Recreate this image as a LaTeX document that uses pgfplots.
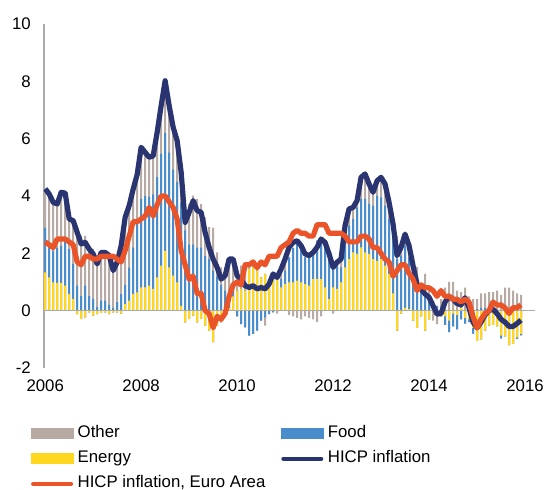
\documentclass[border=0pt]{standalone}
\usepackage{pgfplots}
\pgfplotsset{compat=1.18}
\usepackage{pgfplotstable}
\usepackage{fontspec}
\setmainfont{Liberation Sans}
\definecolor{cOther}{RGB}{183,170,163}
\definecolor{cFood}{RGB}{74,141,205}
\definecolor{cEnergy}{RGB}{255,215,30}
\definecolor{cNavy}{RGB}{42,52,112}
\definecolor{cOrange}{RGB}{234,84,40}
\definecolor{cAxis}{RGB}{170,170,170}
\pgfplotstableread{
i E F O H EA
0 1.34 1.56 1.35 4.25 2.4
1 1.16 1.17 1.74 4.07 2.3
2 0.99 1.10 1.69 3.78 2.2
3 0.97 1.23 1.52 3.72 2.5
4 0.97 1.30 1.86 4.13 2.5
5 0.87 1.57 1.66 4.10 2.5
6 0.58 1.57 1.05 3.20 2.4
7 0.41 1.22 1.51 3.14 2.3
8 -0.12 0.87 1.98 2.73 1.7
9 -0.29 0.52 2.10 2.33 1.6
10 -0.23 0.87 1.74 2.38 1.9
11 -0.06 0.52 1.69 2.15 1.9
12 -0.17 0.41 1.74 1.98 1.8
13 -0.12 0.12 1.63 1.63 1.8
14 -0.08 0.35 1.76 2.03 1.9
15 -0.06 0.35 1.74 2.03 1.9
16 -0.12 0.20 1.84 1.92 1.9
17 -0.06 0.10 1.36 1.40 1.9
18 -0.06 0.30 1.45 1.69 1.8
19 -0.10 0.58 1.79 2.27 1.7
20 0.23 0.67 2.36 3.26 2.1
21 0.35 1.15 2.16 3.66 2.6
22 0.58 1.62 2.04 4.24 3.1
23 0.64 2.56 1.55 4.75 3.1
24 0.81 3.09 1.80 5.70 3.2
25 0.81 3.19 1.52 5.52 3.3
26 0.87 3.10 1.38 5.35 3.6
27 0.76 3.30 1.34 5.40 3.3
28 1.16 3.50 1.56 6.22 3.7
29 1.57 3.90 1.68 7.15 4.0
30 2.09 4.10 1.83 8.02 4.0
31 1.51 4.00 1.64 7.15 3.8
32 1.22 3.70 1.48 6.40 3.6
33 0.99 3.50 1.44 5.93 3.2
34 0.17 3.60 1.06 4.83 2.1
35 -0.41 2.80 0.69 3.08 1.6
36 -0.29 2.30 1.42 3.43 1.1
37 -0.17 2.30 1.71 3.84 1.2
38 -0.41 2.20 1.70 3.49 0.6
39 -0.29 2.20 1.52 3.43 0.6
40 -0.52 1.90 1.35 2.73 0.0
41 -0.70 1.80 1.11 2.21 -0.1
42 -1.10 1.40 1.50 1.80 -0.6
43 -0.52 1.20 0.83 1.51 -0.2
44 -0.41 0.90 0.61 1.10 -0.3
45 -0.06 0.70 0.58 1.22 -0.1
46 0.10 0.50 1.20 1.80 0.5
47 0.50 0.30 1.00 1.80 0.9
48 0.70 -0.20 0.72 1.22 1.0
49 0.76 -0.47 0.81 1.10 0.9
50 0.70 -0.58 0.75 0.87 1.6
51 1.45 -0.87 0.23 0.81 1.6
52 1.51 -0.81 0.17 0.87 1.7
53 1.40 -0.70 0.06 0.76 1.5
54 1.16 -0.35 0.00 0.81 1.7
55 1.28 -0.23 -0.29 0.76 1.6
56 1.05 -0.12 0.00 0.93 1.9
57 1.10 -0.06 0.24 1.28 1.9
58 1.10 0.10 -0.10 1.16 1.9
59 0.81 0.30 0.34 1.45 2.2
60 0.93 0.47 0.40 1.80 2.3
61 0.99 0.87 -0.15 2.21 2.4
62 0.99 1.20 -0.20 2.38 2.7
63 1.05 1.40 -0.25 2.44 2.8
64 0.99 1.30 -0.30 2.27 2.7
65 0.93 0.93 -0.20 1.98 2.7
66 0.87 1.00 -0.25 1.92 2.6
67 1.10 0.93 -0.30 2.03 2.6
68 1.10 1.34 -0.40 2.21 3.0
69 1.10 1.40 -0.20 2.50 3.0
70 0.81 1.46 0.11 2.38 3.0
71 0.41 1.33 0.24 1.98 2.7
72 0.81 0.70 -0.10 1.51 2.7
73 0.76 0.80 0.13 1.69 2.7
74 0.99 0.52 0.29 1.80 2.7
75 1.51 1.00 0.46 2.97 2.6
76 1.80 1.17 0.58 3.55 2.4
77 2.03 1.17 0.40 3.60 2.4
78 1.98 1.62 0.24 3.84 2.4
79 2.21 1.69 0.75 4.65 2.6
80 2.03 1.87 0.87 4.77 2.6
81 1.98 1.74 0.70 4.42 2.5
82 1.80 1.86 0.47 4.13 2.2
83 1.74 2.26 0.53 4.53 2.2
84 1.80 2.15 0.70 4.65 2.0
85 1.57 2.09 0.76 4.42 1.8
86 1.28 1.92 0.58 3.78 1.7
87 0.60 1.90 0.52 3.02 1.2
88 -0.70 1.80 0.82 1.92 1.4
89 -0.10 1.92 0.39 2.21 1.6
90 0.10 2.17 0.40 2.67 1.6
91 0.05 1.81 0.41 2.27 1.3
92 -0.35 1.45 0.47 1.57 1.1
93 -0.60 0.87 0.66 0.93 0.7
94 -0.20 0.70 0.26 0.76 0.9
95 -0.70 0.58 0.70 0.58 0.8
96 -0.30 0.40 0.37 0.47 0.8
97 0.05 0.29 -0.35 0.17 0.7
98 -0.17 0.17 -0.30 -0.12 0.5
99 -0.10 -0.10 0.40 -0.10 0.7
100 -0.20 -0.30 0.80 0.30 0.5
101 -0.35 -0.40 1.00 0.50 0.5
102 -0.10 -0.45 1.00 0.40 0.4
103 -0.15 -0.50 0.70 0.25 0.4
104 0.10 -0.30 0.55 0.20 0.3
105 -0.25 -0.20 0.80 0.45 0.4
106 -0.30 -0.10 0.50 0.10 0.3
107 -0.60 -0.20 0.40 -0.40 -0.2
108 -1.05 0.05 0.35 -0.60 -0.6
109 -1.00 0.10 0.50 -0.40 -0.3
110 -0.70 0.10 0.50 -0.15 -0.1
111 -0.52 0.05 0.60 0.00 0.0
112 -0.50 0.10 0.55 0.05 0.3
113 -0.55 0.00 0.70 -0.10 0.2
114 -0.87 -0.10 0.55 -0.30 0.2
115 -0.90 0.00 0.80 -0.40 0.1
116 -1.20 0.05 0.75 -0.55 -0.1
117 -1.16 0.00 0.70 -0.55 0.1
118 -0.93 -0.05 0.60 -0.45 0.1
119 -0.81 -0.05 0.55 -0.33 0.2
}\data

\begin{document}
\begin{tikzpicture}
\useasboundingbox (-44pt,-122pt) rectangle (503pt,368pt);
\begin{axis}[
  at={(0pt,0pt)}, anchor=south west,
  scale only axis, width=491pt, height=344pt,
  xmin=-0.3, xmax=122.5, ymin=-2, ymax=10,
  axis x line*=bottom, axis y line*=left,
  x axis line style={draw=none},
  y axis line style={draw=cAxis, line width=1.2pt, -},
  major tick length=0pt,
  xtick={0,24,48,72,96,120},
  xticklabels={2006,2008,2010,2012,2014,2016},
  ytick={-2,0,2,4,6,8,10},
  yticklabels={-2,0,2,4,6,8,10},
  tick label style={font=\fontsize{16.8}{20}\selectfont, inner sep=0pt},
  xticklabel style={anchor=north, yshift=-12pt},
  yticklabel style={anchor=east, xshift=-13pt},
  legend columns=2,
  legend style={at={(axis description cs:-0.0271,-0.1686)}, anchor=north west,
    draw=none, fill=none, inner sep=0pt, column sep=4.4pt, row sep=10pt,
    font=\fontsize{16.8}{20}\selectfont,
    nodes={inner sep=0pt, text height=11.5pt, text depth=3.5pt}},
  legend cell align=left,
]
% positive stacks
\addplot[ybar, bar width=0.5, bar shift=0pt, fill=cOther, draw=none, forget plot]
  table[x=i, y expr={max(\thisrow{E},0)+max(\thisrow{F},0)+max(\thisrow{O},0)}] {\data};
\addplot[ybar, bar width=0.5, bar shift=0pt, fill=cFood, draw=none, forget plot]
  table[x=i, y expr={max(\thisrow{E},0)+max(\thisrow{F},0)}] {\data};
\addplot[ybar, bar width=0.5, bar shift=0pt, fill=cEnergy, draw=none, forget plot]
  table[x=i, y expr={max(\thisrow{E},0)}] {\data};
% negative stacks
\addplot[ybar, bar width=0.5, bar shift=0pt, fill=cOther, draw=none, forget plot]
  table[x=i, y expr={min(\thisrow{E},0)+min(\thisrow{F},0)+min(\thisrow{O},0)}] {\data};
\addplot[ybar, bar width=0.5, bar shift=0pt, fill=cFood, draw=none, forget plot]
  table[x=i, y expr={min(\thisrow{E},0)+min(\thisrow{F},0)}] {\data};
\addplot[ybar, bar width=0.5, bar shift=0pt, fill=cEnergy, draw=none, forget plot]
  table[x=i, y expr={min(\thisrow{E},0)}] {\data};
% zero line
\addplot[cAxis, line width=1.5pt, forget plot] coordinates {(-0.3,0) (122.5,0)};
% lines
\addplot[cNavy, line width=5.2pt, line join=round, no markers, forget plot] table[x=i, y=H] {\data};
\addplot[cOrange, line width=5.2pt, line join=round, no markers, forget plot] table[x=i, y=EA] {\data};
% legend
\addlegendimage{legend image code/.code={\fill[cOther] (0pt,-5pt) rectangle (42pt,5pt);}}
\addlegendentry{\makebox[199pt][l]{Other}}
\addlegendimage{legend image code/.code={\fill[cFood] (0pt,-5pt) rectangle (42pt,5pt);}}
\addlegendentry{Food}
\addlegendimage{legend image code/.code={\fill[cEnergy] (0pt,-5pt) rectangle (42pt,5pt);}}
\addlegendentry{\makebox[199pt][l]{Energy}}
\addlegendimage{legend image code/.code={\draw[cNavy, line width=4pt, line cap=round] (2pt,0pt) -- (40pt,0pt);}}
\addlegendentry{HICP inflation}
\addlegendimage{legend image code/.code={\draw[cOrange, line width=4pt, line cap=round] (2pt,0pt) -- (40pt,0pt);}}
\addlegendentry{\makebox[199pt][l]{HICP inflation, Euro Area}}
\end{axis}
\end{tikzpicture}
\end{document}
